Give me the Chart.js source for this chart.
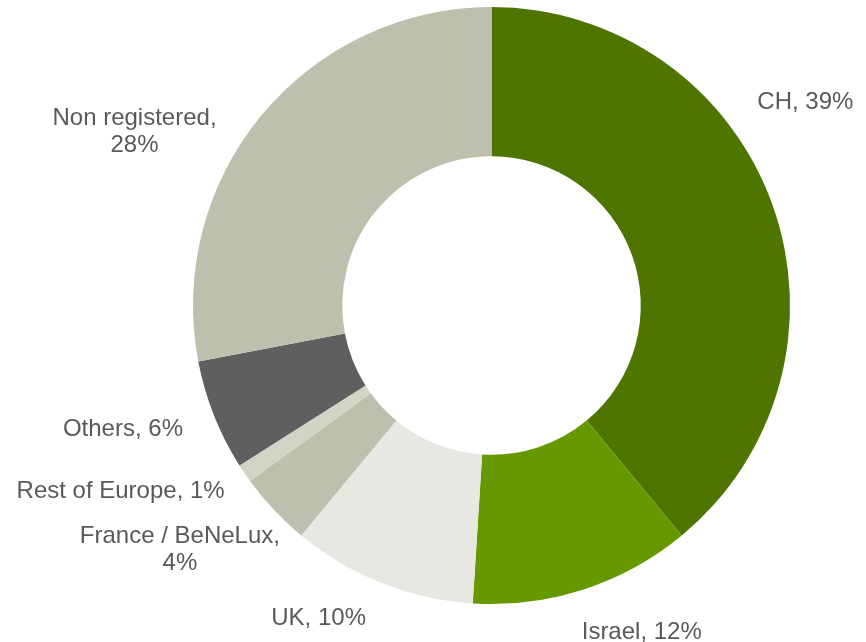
<!DOCTYPE html>
<html>
<head>
<meta charset="utf-8">
<title>Distribution by country</title>
<script src="https://cdn.jsdelivr.net/npm/chart.js@4/dist/chart.umd.min.js"></script>
<style>
  html, body { margin: 0; padding: 0; background: #ffffff; }
  #wrap { width: 866px; height: 642px; }
</style>
</head>
<body>
<div id="wrap"><canvas id="chart" width="866" height="642"></canvas></div>
<script>
// Share of each region, in percent
const categories = ['CH', 'Israel', 'UK', 'France / BeNeLux', 'Rest of Europe', 'Others', 'Non registered'];
const shares = [39, 12, 10, 4, 1, 6, 28];
const sliceColors = ['#4e7500', '#669900', '#e8e8e3', '#bfbfad', '#d4d4c6', '#5f5f5f', '#bfbfad'];

// Where each outside label sits, relative to the middle of its slice's outer edge
const labelOffsets = [
  { dx: 33, dy: -104, wrap: false },
  { dx: 58, dy: 41, wrap: false },
  { dx: -63, dy: 33, wrap: false },
  { dx: -94, dy: 38, wrap: true },
  { dx: -124, dy: 16, wrap: false },
  { dx: -91, dy: 12, wrap: false },
  { dx: -127, dy: 15, wrap: true }
];

const outsideLabels = {
  id: 'outsideLabels',
  afterDatasetsDraw(chart, args, opts) {
    const ctx = chart.ctx;
    const meta = chart.getDatasetMeta(0);
    const fontSize = opts.fontSize;
    const capHalf = fontSize * 0.358;
    ctx.save();
    ctx.font = fontSize + 'px "Liberation Sans", Arial, sans-serif';
    ctx.fillStyle = opts.color;
    ctx.textAlign = 'center';
    ctx.textBaseline = 'alphabetic';
    meta.data.forEach((arc, i) => {
      const p = arc.getProps(['x', 'y', 'startAngle', 'endAngle', 'outerRadius'], true);
      const mid = (p.startAngle + p.endAngle) / 2;
      const ax = p.x + Math.cos(mid) * p.outerRadius;
      const ay = p.y + Math.sin(mid) * p.outerRadius;
      const off = opts.offsets[i];
      const cx = ax + off.dx;
      const cy = ay + off.dy;
      const name = chart.data.labels[i] + ',';
      const value = chart.data.datasets[0].data[i] + '%';
      const lines = off.wrap ? [name, value] : [name + ' ' + value];
      const lh = opts.lineHeight;
      const top = cy - (lines.length - 1) * lh / 2;
      lines.forEach((t, k) => {
        ctx.fillText(t, cx, top + k * lh + capHalf);
      });
    });
    ctx.restore();
  }
};

new Chart(document.getElementById('chart'), {
  type: 'doughnut',
  data: {
    labels: categories,
    datasets: [{
      data: shares,
      backgroundColor: sliceColors,
      borderWidth: 0
    }]
  },
  options: {
    responsive: false,
    animation: false,
    cutout: '50%',
    layout: { padding: { left: 193, right: 76, top: 7, bottom: 38 } },
    plugins: {
      legend: { display: false },
      tooltip: { enabled: false },
      outsideLabels: { offsets: labelOffsets, fontSize: 24, lineHeight: 27, color: '#595959' }
    }
  },
  plugins: [outsideLabels]
});
</script>
</body>
</html>
